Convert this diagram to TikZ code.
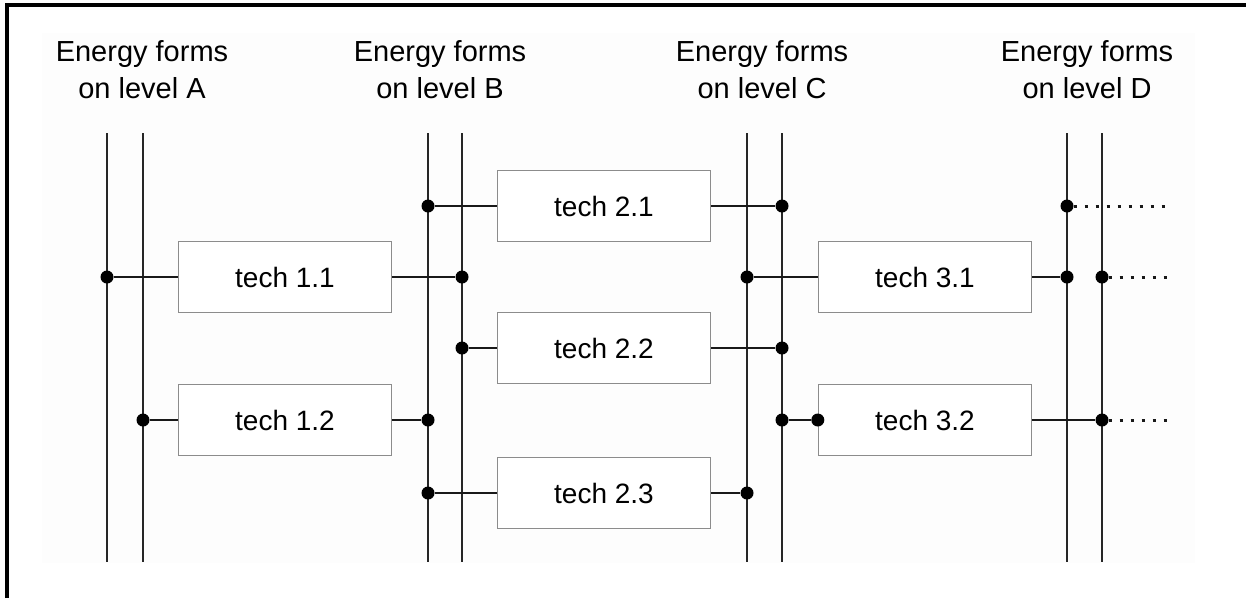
\documentclass[tikz,border=0pt]{standalone}
\usepackage{fontspec}
\setmainfont{Liberation Sans}
\begin{document}
\begin{tikzpicture}[x=1pt,y=-1pt,
  techbox/.style={draw=black!45, line width=1.4pt, fill=white, minimum width=213pt, minimum height=71pt, inner sep=0pt, font=\fontsize{28}{33}\selectfont},
  bus/.style={line width=2.6pt, black!85},
  link/.style={line width=2.6pt, black!90},
  dotlink/.style={line width=3pt, black!90, dash pattern=on 3pt off 8pt},
  hub/.style={circle, fill=black, inner sep=0pt, minimum size=13pt},
  lvl/.style={align=center, font=\fontsize{29}{37}\selectfont, inner sep=0pt}]

\useasboundingbox (0,0) rectangle (1246,598);
\fill[white] (0,0) rectangle (1246,598);
\fill[black!0.6] (42,33) rectangle (1195,563);
\draw[line width=3.2pt] (7,598) -- (7,5) -- (1246,5);

% level labels
\node[lvl] (lA) at (142,70) {Energy forms\\on level A};
\node[lvl] (lB) at (440,70) {Energy forms\\on level B};
\node[lvl] (lC) at (762,70) {Energy forms\\on level C};
\node[lvl] (lD) at (1087,70) {Energy forms\\on level D};

% buses
\foreach \n/\x in {A1/107,A2/143,B1/428,B2/462,C1/747,C2/782,D1/1067,D2/1102}{
  \coordinate (\n t) at (\x,133);
  \coordinate (\n b) at (\x,562);
  \draw[bus] (\n t) -- (\n b);
}

% technology boxes
\node[techbox] (t11) at (285,277) {tech 1.1};
\node[techbox] (t12) at (285,420) {tech 1.2};
\node[techbox] (t21) at (604,206) {tech 2.1};
\node[techbox] (t22) at (604,348) {tech 2.2};
\node[techbox] (t23) at (604,493) {tech 2.3};
\node[techbox] (t31) at (925,277) {tech 3.1};
\node[techbox] (t32) at (925,420) {tech 3.2};

% junctions
\node[hub] (hA1)  at (107,277) {};
\node[hub] (hA2)  at (143,420) {};
\node[hub] (hB2a) at (462,277) {};
\node[hub] (hB1b) at (428,420) {};
\node[hub] (hB1a) at (428,206) {};
\node[hub] (hC2a) at (782,206) {};
\node[hub] (hB2b) at (462,348) {};
\node[hub] (hC2b) at (782,348) {};
\node[hub] (hB1c) at (428,493) {};
\node[hub] (hC1a) at (747,493) {};
\node[hub] (hC1b) at (747,277) {};
\node[hub] (hD1a) at (1067,277) {};
\node[hub] (hD2a) at (1102,277) {};
\node[hub] (hD1b) at (1067,206) {};
\node[hub] (hC2c) at (782,420) {};
\node[hub] (h32w) at (t32.west) {};
\node[hub] (hD2b) at (1102,420) {};

% connectors
\draw[link] (hA1) -- (t11);
\draw[link] (t11) -- (hB2a);
\draw[link] (hA2) -- (t12);
\draw[link] (t12) -- (hB1b);
\draw[link] (hB1a) -- (t21);
\draw[link] (t21) -- (hC2a);
\draw[link] (hB2b) -- (t22);
\draw[link] (t22) -- (hC2b);
\draw[link] (hB1c) -- (t23);
\draw[link] (t23) -- (hC1a);
\draw[link] (hC1b) -- (t31);
\draw[link] (t31) -- (hD1a);
\draw[link] (hC2c) -- (h32w);
\draw[link] (t32) -- (hD2b);

% open ends
\coordinate (e1) at (1167,206);
\coordinate (e2) at (1170,277);
\coordinate (e3) at (1170,420);
\draw[dotlink] (hD1b) -- (e1);
\draw[dotlink] (hD2a) -- (e2);
\draw[dotlink] (hD2b) -- (e3);
\end{tikzpicture}
\end{document}
